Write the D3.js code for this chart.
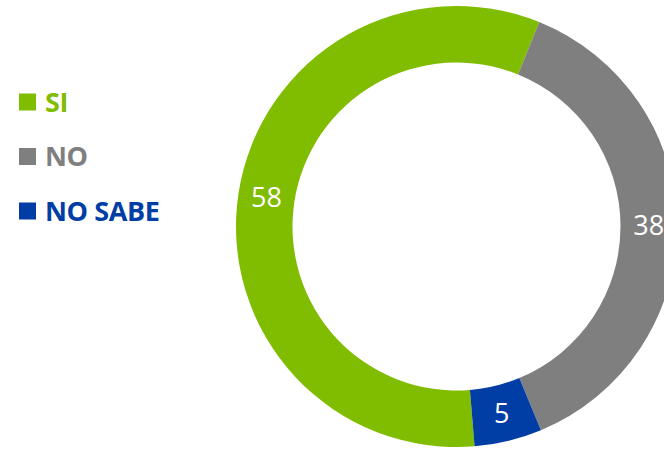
<!DOCTYPE html>
<html>
<head>
<meta charset="utf-8">
<script src="https://cdn.jsdelivr.net/npm/d3@7"></script>
<style>
  html, body { margin: 0; padding: 0; background: #fff; overflow: hidden; }
  svg { display: block; }
</style>
</head>
<body>
<svg id="chart" width="664" height="449"></svg>
<script>
// Survey answers
const categories = ["SI", "NO", "NO SABE"];
const values = [58, 38, 5];
const colors = ["#80BC00", "#7F7F7F", "#003DA5"];

const width = 664, height = 449;
const cx = 456.5, cy = 226.5;
const outerR = 220.5, innerR = 164;

const svg = d3.select("#chart");

// Ring: first slice placed so the SI/NO boundary sits just right of 12 o'clock
const startDeg = -184.7;
const start = startDeg * Math.PI / 180;
const pie = d3.pie().sort(null).value(d => d.value)
  .startAngle(start).endAngle(start + 2 * Math.PI);

const data = categories.map((c, i) => ({ name: c, value: values[i], color: colors[i] }));
const arcs = pie(data);
const arc = d3.arc().innerRadius(innerR).outerRadius(outerR);

const g = svg.append("g").attr("transform", `translate(${cx},${cy})`);

g.selectAll("path.slice").data(arcs).enter().append("path")
  .attr("class", "slice")
  .attr("d", arc)
  .attr("fill", d => d.data.color);

g.selectAll("text.val").data(arcs).enter().append("text")
  .attr("class", "val")
  .attr("transform", d => `translate(${arc.centroid(d)})`)
  .attr("text-anchor", "middle")
  .attr("dy", "0.36em")
  .attr("fill", "#fff")
  .style("font-family", "'Open Sans', sans-serif")
  .style("font-size", "27px")
  .text(d => d.data.value);

// Legend
const legend = svg.append("g").attr("transform", "translate(19,0)");
const rowY = d3.scalePoint().domain(categories).range([102, 211]);

const rows = legend.selectAll("g.row").data(data).enter().append("g")
  .attr("class", "row")
  .attr("transform", d => `translate(0,${rowY(d.name)})`);

rows.append("rect")
  .attr("x", 0).attr("y", -8.5)
  .attr("width", 17).attr("height", 17)
  .attr("fill", d => d.color);

rows.append("text")
  .attr("x", 26)
  .attr("dy", "0.36em")
  .attr("fill", d => d.color)
  .style("font-family", "'Open Sans', sans-serif")
  .style("font-weight", "bold")
  .style("font-size", "27px")
  .style("letter-spacing", "-0.4px")
  .text(d => d.name);
</script>
</body>
</html>
